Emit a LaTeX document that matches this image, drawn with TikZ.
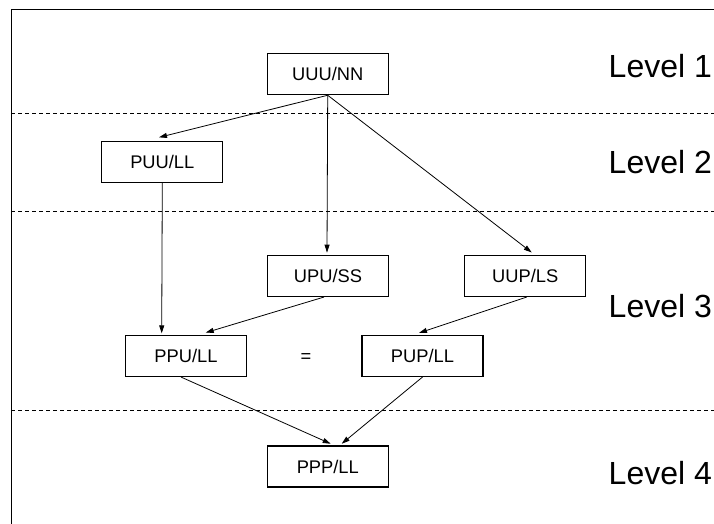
\documentclass[tikz,border=0pt]{standalone}
\usepackage{fontspec}
\setmainfont{Liberation Sans}
\usetikzlibrary{arrows.meta,positioning}

\begin{document}
\begin{tikzpicture}[x=1pt,y=-1pt,
  state/.style={draw, line width=1.1pt, minimum width=121pt, minimum height=41pt, inner sep=0pt, font=\fontsize{18.3}{20}\selectfont},
  level/.style={anchor=base west, inner sep=0pt, font=\fontsize{32}{36}\selectfont},
  arr/.style={-{Triangle[length=8pt,width=5pt]}, line width=0.8pt},
  sep/.style={dash pattern=on 3.7pt off 3.3pt, line width=0.9pt}]

\useasboundingbox (0,0) rectangle (714,524);
\clip (0,0) rectangle (714,524);

\draw[line width=1.2pt] (11.3,9.3) rectangle (730,540);

\draw[sep] (11.3,113.3) -- (714,113.3);
\draw[sep] (11.3,211.4) -- (714,211.4);
\draw[sep] (11.3,410.7) -- (714,410.7);

\node[state] (uuu) at (327.7,74.2) {UUU/NN};
\node[state] (puu) at (162.3,161.7) {PUU/LL};
\node[state] (upu) at (328,276) {UPU/SS};
\node[state] (uup) at (525.2,276) {UUP/LS};
\node[state] (ppu) at (186,356) {PPU/LL};
\node[state] (pup) at (422.5,356) {PUP/LL};
\node[state] (ppp) at (327.8,466.5) {PPP/LL};

\node[font=\fontsize{18.3}{20}\selectfont, inner sep=0pt] (eq) at (306,358.3) {=};

\node[level] (lev1) at (608.5,77.3) {Level 1};
\node[level] (lev2) at (608.5,173.3) {Level 2};
\node[level] (lev3) at (608.5,317.3) {Level 3};
\node[level] (lev4) at (608.5,484) {Level 4};

\draw[arr] (uuu.south) -- ([xshift=-3.3pt,yshift=3.3pt]puu.north);
\draw[arr] (uuu.south) -- ([xshift=-1pt,yshift=2.3pt]upu.north);
\draw[arr] (uuu.south) -- ([xshift=6.5pt,yshift=2.5pt]uup.north);
\draw[arr] (puu.south) -- ([xshift=-24.3pt,yshift=1.6pt]ppu.north);
\draw[arr] ([xshift=-4pt]upu.south) -- ([xshift=19.7pt,yshift=2.3pt]ppu.north);
\draw[arr] ([xshift=1.5pt]uup.south) -- ([xshift=-3.5pt,yshift=2pt]pup.north);
\draw[arr] ([xshift=-5pt]ppu.south) -- ([xshift=2.9pt,yshift=1.7pt]ppp.north);
\draw[arr] (pup.south) -- ([xshift=13.9pt,yshift=1.7pt]ppp.north);
\end{tikzpicture}
\end{document}
